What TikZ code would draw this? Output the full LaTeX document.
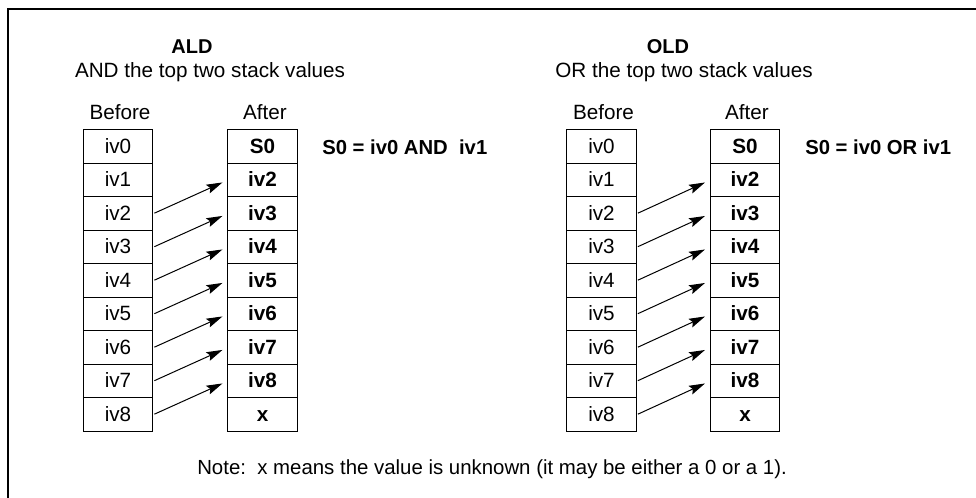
\documentclass[tikz,border=0pt]{standalone}
\usepackage{fontspec}
\setmainfont{Liberation Sans}
\usetikzlibrary{arrows.meta}
\begin{document}
\begin{tikzpicture}[x=0.75pt,y=-0.75pt,
  every node/.style={font=\fontsize{15.5}{18}\selectfont, inner sep=0pt},
  cell/.style={draw, line width=0.75pt, minimum width=52pt, minimum height=25.125pt,
               text height=0.98em, text depth=0pt},
  acell/.style={cell, font=\fontsize{15.5}{18}\selectfont\bfseries},
  eq/.style={anchor=west, font=\fontsize{15.2}{18}\selectfont\bfseries},
  ttl/.style={font=\fontsize{15}{18}\selectfont\bfseries},
  notefont/.style={font=\fontsize{15.3}{18}\selectfont},
  arr/.style={line width=0.75pt, -{Stealth[length=12pt,width=7pt,inset=2pt]}, shorten <=1pt, shorten >=4pt},
  frame/.style={line width=1.5pt}
]
\useasboundingbox (0,0) rectangle (976,498);
\draw[frame] (8,498) -- (8,9.5) -- (976,9.5);

% ---------- ALD ----------
\node[ttl] (ald) at (192,47) {ALD};
\node (aldsub) at (210,72) {AND the top two stack values};
\node (lbefore) at (120,112) {Before};
\node (lafter) at (265,112) {After};
\foreach \i/\t in {0/iv0,1/iv1,2/iv2,3/iv3,4/iv4,5/iv5,6/iv6,7/iv7,8/iv8}
  \node[cell] (Lb\i) at (118,146.75+33.5*\i) {\t};
\foreach \i/\t in {0/S0,1/iv2,2/iv3,3/iv4,4/iv5,5/iv6,6/iv7,7/iv8,8/x}
  \node[acell] (La\i) at (262.5,146.75+33.5*\i) {\t};
\foreach \i [evaluate=\i as \j using int(\i-1)] in {2,...,8}
  \draw[arr] (Lb\i.east) -- (La\j.west);
\node[eq] (leq) at (322,147) {S0 = iv0 AND\ \ iv1};

% ---------- OLD ----------
\node[ttl] (old) at (668,47) {OLD};
\node (oldsub) at (684,72) {OR the top two stack values};
\node (rbefore) at (603.5,112) {Before};
\node (rafter) at (747,112) {After};
\foreach \i/\t in {0/iv0,1/iv1,2/iv2,3/iv3,4/iv4,5/iv5,6/iv6,7/iv7,8/iv8}
  \node[cell] (Rb\i) at (601.5,146.75+33.5*\i) {\t};
\foreach \i/\t in {0/S0,1/iv2,2/iv3,3/iv4,4/iv5,5/iv6,6/iv7,7/iv8,8/x}
  \node[acell] (Ra\i) at (745,146.75+33.5*\i) {\t};
\foreach \i [evaluate=\i as \j using int(\i-1)] in {2,...,8}
  \draw[arr] (Rb\i.east) -- (Ra\j.west);
\node[eq] (req) at (805,147) {S0 = iv0 OR iv1};

% ---------- note ----------
\node[notefont, anchor=west] (note) at (197,469.5) {Note:\ \ x means the value is unknown (it may be either a 0 or a 1).};
\end{tikzpicture}
\end{document}
